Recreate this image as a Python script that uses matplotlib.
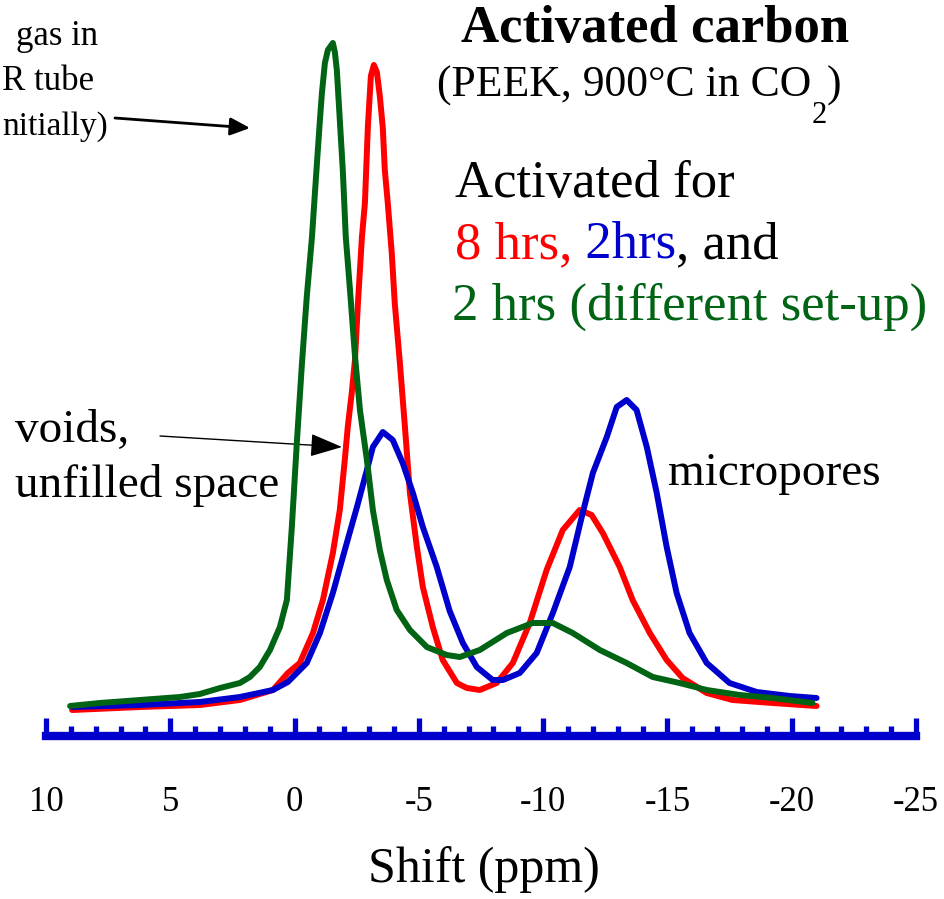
import matplotlib
matplotlib.use('Agg')
import matplotlib.pyplot as plt
from matplotlib.ticker import MultipleLocator

plt.rcParams['font.family'] = ['Liberation Serif', 'DejaVu Serif']

# Shift (ppm) and intensity (arb. units)
green_shift = [9.03, 7.83, 6.22, 4.61, 3.81, 3.00, 2.20, 1.80, 1.40, 0.99, 0.59, 0.31,
               0.11, -0.09, -0.29, -0.49, -0.70, -0.90, -1.02, -1.10, -1.22, -1.34,
               -1.54, -1.62, -1.70, -1.82, -1.94, -2.06, -2.22, -2.43, -2.63, -2.91,
               -3.15, -3.43, -3.71, -4.11, -4.64, -5.32, -6.12, -6.65, -7.45, -8.54,
               -9.58, -10.39, -11.19, -12.28, -13.36, -14.41, -15.49, -16.58, -17.91,
               -19.23, -20.84]
green_int = [30, 33, 36, 39, 42, 48, 53, 59, 69, 86, 109, 136,
             209, 293, 370, 439, 499, 573, 616, 643, 673, 686,
             693, 684, 666, 616, 566, 499, 449, 380, 326, 276,
             226, 186, 156, 126, 106, 89, 81, 79, 86, 103,
             113, 113, 103, 86, 73, 59, 53, 46, 41,
             38, 33]

red_shift = [8.95, 6.22, 3.81, 2.20, 0.87, 0.27, -0.21, -0.74, -1.14, -1.54, -1.82,
             -2.02, -2.14, -2.30, -2.43, -2.55, -2.71, -2.83, -2.95, -3.07, -3.19,
             -3.31, -3.43, -3.55, -3.63, -3.75, -3.91, -4.03, -4.23, -4.44, -4.64,
             -4.92, -5.16, -5.56, -5.96, -6.53, -6.93, -7.45, -8.13, -8.78, -9.46,
             -10.14, -10.79, -11.47, -11.95, -12.40, -13.08, -13.60, -14.29, -14.97,
             -15.61, -16.58, -17.62, -19.23, -21.00]
red_int = [26, 29, 31, 36, 46, 63, 73, 103, 136, 183, 226,
           276, 309, 343, 376, 433, 499, 533, 610, 660, 671,
           664, 640, 608, 566, 533, 483, 433, 375, 309, 243,
           189, 149, 109, 76, 53, 48, 46, 53, 73, 113,
           166, 206, 226, 221, 203, 169, 136, 103, 76,
           58, 43, 36, 33, 30]

blue_shift = [8.95, 6.22, 3.81, 2.20, 0.87, 0.27, -0.49, -1.02, -1.54, -2.10, -2.51,
              -2.91, -3.15, -3.55, -3.95, -4.35, -4.76, -5.16, -5.72, -6.24, -6.77,
              -7.33, -7.97, -8.38, -9.06, -9.74, -10.39, -11.07, -11.59, -12.00,
              -12.56, -12.96, -13.36, -13.76, -14.17, -14.57, -14.97, -15.37, -15.89,
              -16.58, -17.50, -18.59, -19.92, -21.00]
blue_int = [29, 31, 34, 39, 46, 54, 73, 103, 143, 193, 229,
            266, 289, 304, 296, 273, 243, 209, 169, 125, 93,
            69, 56, 56, 63, 83, 123, 169, 223, 263,
            299, 329, 336, 326, 289, 243, 189, 143, 103,
            73, 53, 44, 40, 38]

tick_values = [10, 5, 0, -5, -10, -15, -20, -25]

RED = '#FF0000'
BLUE = '#0000CC'
GREEN = '#006414'

W, H = 944, 899
fig = plt.figure(figsize=(W / 100, H / 100), dpi=100)
ax = fig.add_axes([46 / W, 1 - 736 / H, 870 / W, 706 / H])


def fpx(x, y):
    # pixel position (from top-left) -> figure fraction
    return x / W, 1 - y / H


ax.plot(red_shift, red_int, color=RED, lw=4.3, solid_capstyle='round',
        solid_joinstyle='round', zorder=3)
ax.plot(blue_shift, blue_int, color=BLUE, lw=4.3, solid_capstyle='round',
        solid_joinstyle='round', zorder=4)
ax.plot(green_shift, green_int, color=GREEN, lw=4.3, solid_capstyle='round',
        solid_joinstyle='round', zorder=5)

ax.set_xlim(10, -25)
ax.set_ylim(0, 706)
for s in ['left', 'right', 'top']:
    ax.spines[s].set_visible(False)
ax.spines['bottom'].set_color(BLUE)
ax.spines['bottom'].set_linewidth(6)
ax.set_yticks([])
ax.set_xticks(tick_values)
ax.set_xticklabels([str(v) for v in tick_values], fontsize=25)
ax.xaxis.set_minor_locator(MultipleLocator(1))
ax.tick_params(axis='x', which='major', direction='in', length=13, width=3.8,
               color=BLUE, pad=36)
ax.tick_params(axis='x', which='minor', direction='in', length=7, width=3.8,
               color=BLUE)

fig.text(*fpx(484, 882), 'Shift (ppm)', fontsize=36, ha='center', va='baseline')

# title block
fig.text(*fpx(461, 42), 'Activated carbon', fontsize=38, fontweight='bold',
         va='baseline')
t1 = fig.text(*fpx(437, 97), '(PEEK, 900°C in CO', fontsize=31.5, va='baseline')
sub = ax.annotate('2', xy=(1, fpx(0, 123)[1]), xycoords=(t1, 'figure fraction'),
                  fontsize=22, va='baseline', ha='left', annotation_clip=False)
ax.annotate(')', xy=(1, fpx(0, 97)[1]), xycoords=(sub, 'figure fraction'),
            fontsize=31.5, va='baseline', ha='left', annotation_clip=False)

fig.text(*fpx(455, 197), 'Activated for', fontsize=38, va='baseline')

parts = [('8 hrs,', RED), (' 2hrs', BLUE), (', and', 'black')]
prev = fig.text(*fpx(455, 258), parts[0][0], color=parts[0][1], fontsize=38,
                va='baseline')
for txt, col in parts[1:]:
    prev = ax.annotate(txt, xy=(1, fpx(0, 258)[1]), xycoords=(prev, 'figure fraction'),
                       color=col, fontsize=38, va='baseline', ha='left',
                       annotation_clip=False)

fig.text(*fpx(452, 320), '2 hrs (different set-up)', color=GREEN, fontsize=38,
         va='baseline')

# annotations
fig.text(*fpx(15, 442), 'voids,', fontsize=34, va='baseline')
fig.text(*fpx(15, 497), 'unfilled space', fontsize=34, va='baseline')
fig.text(*fpx(668, 485), 'micropores', fontsize=34, va='baseline')

# label at the left edge, only the visible part is kept
fig.text(*fpx(98, 45), 'gas in', fontsize=25, va='baseline', ha='right')
fig.text(*fpx(94, 90), 'R tube', fontsize=25, va='baseline', ha='right')
fig.text(*fpx(108, 135), 'nitially)', fontsize=24, va='baseline', ha='right')

ax.annotate('', xy=fpx(250, 128), xytext=fpx(115, 118),
            xycoords='figure fraction', textcoords='figure fraction',
            arrowprops=dict(arrowstyle='-|>,head_length=0.8,head_width=0.36',
                            mutation_scale=15, lw=2, color='black',
                            shrinkA=0, shrinkB=0))
ax.annotate('', xy=fpx(342, 447), xytext=fpx(160, 436),
            xycoords='figure fraction', textcoords='figure fraction',
            arrowprops=dict(arrowstyle='-|>,head_length=1.0,head_width=0.36',
                            mutation_scale=20, lw=1, color='black',
                            shrinkA=0, shrinkB=0))

fig.savefig('out.png', dpi=100)
